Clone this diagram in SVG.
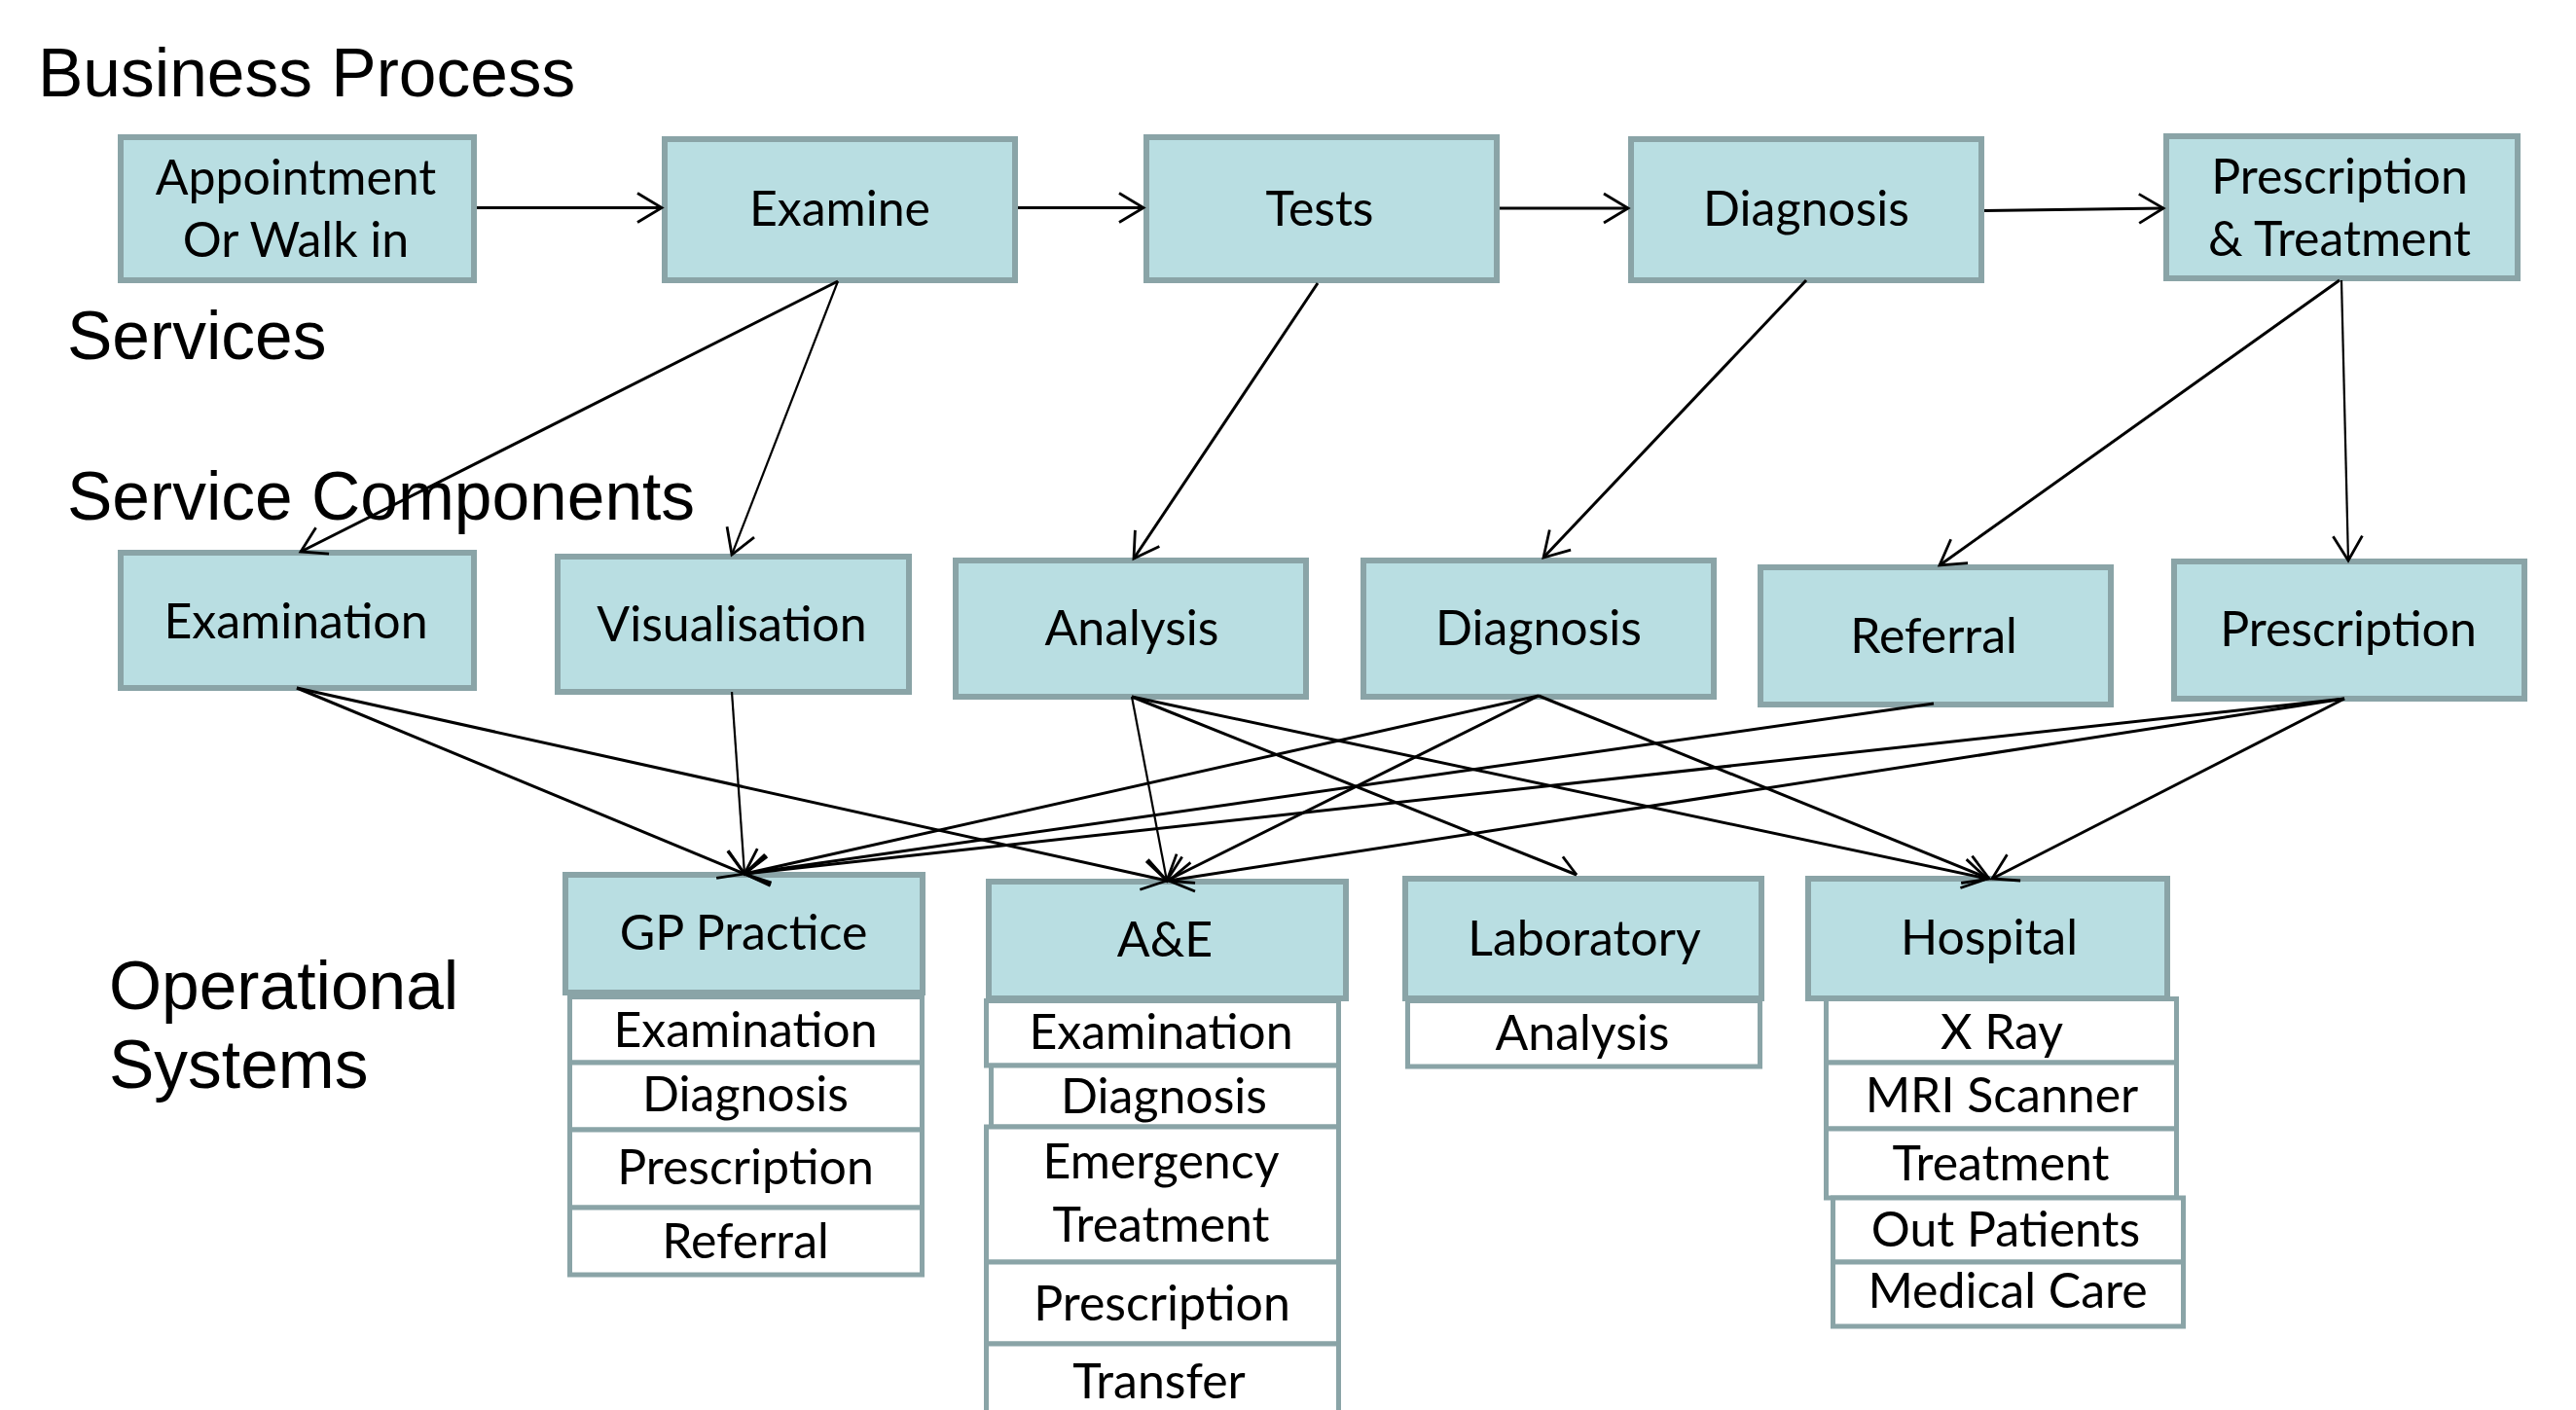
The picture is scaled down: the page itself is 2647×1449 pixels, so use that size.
<svg xmlns="http://www.w3.org/2000/svg" width="2647" height="1449" viewBox="0 0 2647 1449">
<style>
.bg{fill:#ffffff}
.box rect{fill:#B9DEE2;stroke:#8AA4A7;stroke-width:6}
.sub rect{fill:#ffffff;stroke:#8AA4A7;stroke-width:5}
.t{font-family:Lato,"Open Sans",sans-serif;font-size:50px;fill:#000;text-anchor:middle}
.lbl{font-family:"Liberation Sans",Arial,sans-serif;font-size:69.5px;fill:#000}
.c line{stroke:#000;stroke-width:3;fill:none;marker-end:url(#ah)}
.c line.thin{stroke-width:2.2}
</style>
<defs>
<marker id="ah" markerUnits="userSpaceOnUse" markerWidth="80" markerHeight="80" refX="0" refY="0" orient="auto" style="overflow:visible">
<path d="M-25,-15 L0,0 L-25,15" fill="none" stroke="#000" stroke-width="2.8"/>
</marker>
<marker id="half" markerUnits="userSpaceOnUse" markerWidth="80" markerHeight="80" refX="0" refY="0" orient="auto" style="overflow:visible">
<path d="M-20,-12 L0,0" fill="none" stroke="#000" stroke-width="2.8"/>
</marker>
</defs>
<rect class="bg" x="0" y="0" width="2647" height="1449"/>

<g id="labels">
<text class="lbl" x="39" y="99">Business Process</text>
<text class="lbl" x="69" y="369">Services</text>
<text class="lbl" x="69" y="534">Service Components</text>
<text class="lbl" x="112" y="1037">Operational</text>
<text class="lbl" x="112" y="1118">Systems</text>
</g>

<!-- Business process -->
<g id="bp-appointment" class="box"><rect x="124" y="141" width="363" height="147"/><text class="t" x="304" y="200">Appointment</text><text class="t" x="304" y="264">Or Walk in</text></g>
<g id="bp-examine" class="box"><rect x="683" y="143" width="360" height="145"/><text class="t" x="863" y="232">Examine</text></g>
<g id="bp-tests" class="box"><rect x="1178" y="141" width="360" height="147"/><text class="t" x="1356" y="232">Tests</text></g>
<g id="bp-diagnosis" class="box"><rect x="1676" y="143" width="360" height="145"/><text class="t" x="1856" y="232">Diagnosis</text></g>
<g id="bp-prescription" class="box"><rect x="2226" y="140" width="361" height="146"/><text class="t" x="2404" y="199">Prescription</text><text class="t" x="2404" y="263">&amp; Treatment</text></g>

<!-- Service components -->
<g id="sc-examination" class="box"><rect x="124" y="568" width="363" height="139"/><text class="t" x="304" y="656">Examination</text></g>
<g id="sc-visualisation" class="box"><rect x="573" y="572" width="361" height="139"/><text class="t" x="752" y="659">Visualisation</text></g>
<g id="sc-analysis" class="box"><rect x="982" y="576" width="360" height="140"/><text class="t" x="1163" y="663">Analysis</text></g>
<g id="sc-diagnosis" class="box"><rect x="1401" y="576" width="360" height="140"/><text class="t" x="1581" y="663">Diagnosis</text></g>
<g id="sc-referral" class="box"><rect x="1809" y="583" width="360" height="141"/><text class="t" x="1987" y="671">Referral</text></g>
<g id="sc-prescription" class="box"><rect x="2234" y="577" width="360" height="141"/><text class="t" x="2413" y="664">Prescription</text></g>

<!-- Operational systems -->
<g id="os-gp" class="box"><rect x="581" y="899" width="367" height="121"/><text class="t" x="764" y="976">GP Practice</text></g>
<g id="os-gp-subs" class="sub">
<rect x="585.5" y="1024.5" width="362" height="67.5"/><text class="t" x="766" y="1076">Examination</text>
<rect x="585.5" y="1092" width="362" height="69"/><text class="t" x="766" y="1142">Diagnosis</text>
<rect x="585.5" y="1161" width="362" height="80"/><text class="t" x="766" y="1217">Prescription</text>
<rect x="585.5" y="1241" width="362" height="69"/><text class="t" x="766" y="1293">Referral</text>
</g>

<g id="os-ae" class="box"><rect x="1016" y="906" width="367" height="120"/><text class="t" x="1197" y="983">A&amp;E</text></g>
<g id="os-ae-subs" class="sub">
<rect x="1013.5" y="1028.5" width="362" height="66.5"/><text class="t" x="1193" y="1078">Examination</text>
<rect x="1018.5" y="1095" width="357" height="63"/><text class="t" x="1196" y="1144">Diagnosis</text>
<rect x="1013.5" y="1158" width="362" height="139"/><text class="t" x="1193" y="1211">Emergency</text><text class="t" x="1193" y="1276">Treatment</text>
<rect x="1013.5" y="1297" width="362" height="84"/><text class="t" x="1194" y="1357">Prescription</text>
<rect x="1013.5" y="1381" width="362" height="90"/><text class="t" x="1191" y="1437">Transfer</text>
</g>

<g id="os-lab" class="box"><rect x="1444" y="903" width="366" height="123"/><text class="t" x="1628" y="982">Laboratory</text></g>
<g id="os-lab-subs" class="sub">
<rect x="1446.5" y="1028.5" width="362" height="67.5"/><text class="t" x="1626" y="1079">Analysis</text>
</g>

<g id="os-hospital" class="box"><rect x="1858" y="903" width="369" height="123"/><text class="t" x="2044" y="981">Hospital</text></g>
<g id="os-hospital-subs" class="sub">
<rect x="1876.5" y="1026.5" width="360" height="65.5"/><text class="t" x="2057" y="1078">X Ray</text>
<rect x="1876.5" y="1092" width="360" height="68"/><text class="t" x="2057" y="1143">MRI Scanner</text>
<rect x="1876.5" y="1160" width="360" height="71"/><text class="t" x="2056" y="1213">Treatment</text>
<rect x="1883.5" y="1231" width="360" height="66"/><text class="t" x="2061" y="1281">Out Patients</text>
<rect x="1883.5" y="1297" width="360" height="66"/><text class="t" x="2063" y="1344">Medical Care</text>
</g>

<g id="connectors" class="c">
<line x1="490" y1="213.5" x2="680" y2="213.5"/>
<line x1="1046" y1="213.5" x2="1175" y2="213.5"/>
<line x1="1541" y1="214" x2="1673" y2="214"/>
<line x1="2039" y1="216.5" x2="2223" y2="214"/>

<line x1="861" y1="289" x2="309" y2="567"/>
<line class="thin" x1="861" y1="289" x2="752" y2="570"/>
<line x1="1354" y1="291" x2="1165" y2="574"/>
<line x1="1856" y1="288" x2="1586" y2="573"/>
<line x1="2404" y1="288" x2="1993" y2="581"/>
<line class="thin" x1="2406" y1="288" x2="2413" y2="576"/>

<line x1="305" y1="707" x2="765" y2="898"/>
<line x1="305" y1="707" x2="1199" y2="905"/>
<line class="thin" x1="752" y1="711" x2="765" y2="898"/>
<line class="thin" x1="1163" y1="716" x2="1199" y2="905"/>
<line x1="1163" y1="716" x2="1620" y2="899" style="marker-end:url(#half)"/>
<line x1="1163" y1="716" x2="2042" y2="903"/>
<line x1="1581" y1="715" x2="765" y2="898"/>
<line x1="1581" y1="715" x2="1199" y2="905"/>
<line x1="1581" y1="715" x2="2044" y2="903"/>
<line x1="1987" y1="723" x2="765" y2="898"/>
<line x1="2409" y1="718" x2="765" y2="898"/>
<line x1="2409" y1="718" x2="1201" y2="905"/>
<line x1="2409" y1="718" x2="2047" y2="903"/>
</g>
</svg>
